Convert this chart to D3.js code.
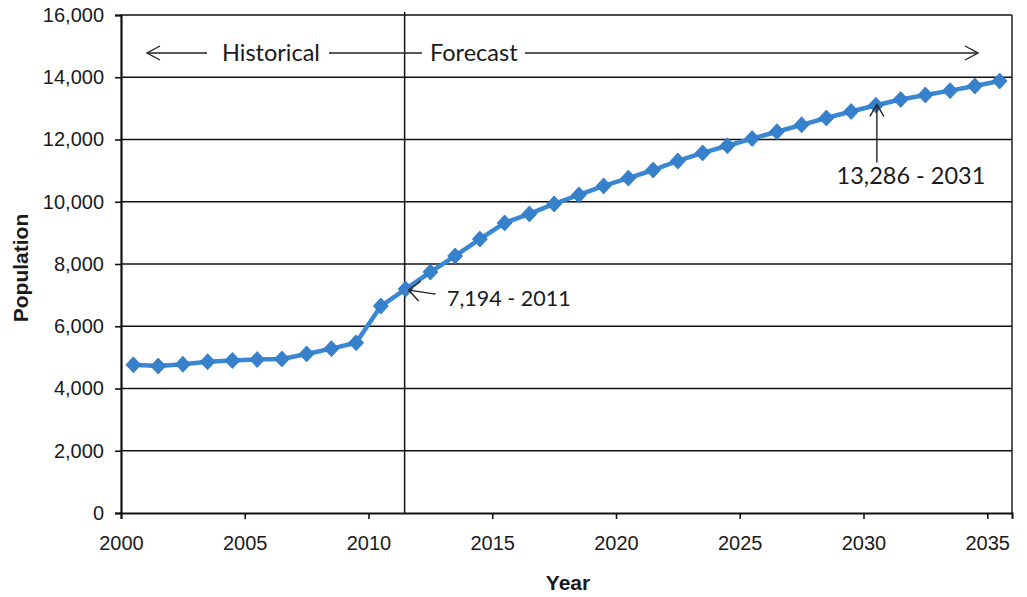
<!DOCTYPE html>
<html>
<head>
<meta charset="utf-8">
<script src="https://cdn.jsdelivr.net/npm/d3@7/dist/d3.min.js"></script>
<style>
  html, body { margin: 0; padding: 0; background: #fff; }
  svg { display: block; }
</style>
</head>
<body>
<script>
// Population, historical (2000-2011) and forecast (2012-2035)
const years = d3.range(2000, 2036);
const population = [
  4760, 4720, 4780, 4860, 4900, 4930, 4950, 5110, 5280, 5470,
  6650, 7194, 7740, 8260, 8800, 9320, 9610, 9930, 10220, 10510,
  10760, 11020, 11310, 11570, 11800, 12030, 12250, 12470, 12690, 12900,
  13100, 13286, 13430, 13570, 13720, 13880
];
const yTicks = [0, 2000, 4000, 6000, 8000, 10000, 12000, 14000, 16000];
const xTicks = [2000, 2005, 2010, 2015, 2020, 2025, 2030, 2035];
const splitYear = 2011;
const callouts = [
  { year: 2011, value: 7194, text: "7,194 - 2011" },
  { year: 2031, value: 13286, text: "13,286 - 2031" }
];

const W = 1027, H = 597;
const svg = d3.select("body").append("svg").attr("width", W).attr("height", H);

// Category axis: each year occupies one band, points sit at band centres
const x = d3.scaleLinear().domain([2000, 2036]).range([121, 1012]);
const y = d3.scaleLinear().domain([0, 16000]).range([513, 15]);
const px = yr => x(yr + 0.5);

const ink = "#111";
const axisFont = "'Liberation Sans', Arial, sans-serif";
const noteFont = "Lato, 'Open Sans', sans-serif";

// Horizontal gridlines
svg.append("g").selectAll("line").data(yTicks.filter(v => v > 0)).join("line")
  .attr("x1", x(2000)).attr("x2", x(2036))
  .attr("y1", d => y(d)).attr("y2", d => y(d))
  .attr("stroke", ink).attr("stroke-width", 1.6);

// Right border
svg.append("line")
  .attr("x1", x(2036)).attr("x2", x(2036)).attr("y1", y(16000)).attr("y2", y(0))
  .attr("stroke", ink).attr("stroke-width", 1.4);

// Y axis
const yAxis = svg.append("g").attr("transform", `translate(${x(2000)},0)`)
  .call(d3.axisLeft(y).tickValues(yTicks).tickFormat(d3.format(",")).tickSize(6).tickPadding(11));
yAxis.select(".domain").attr("stroke", ink).attr("stroke-width", 2.2);
yAxis.selectAll(".tick line").attr("stroke", ink).attr("stroke-width", 1.6);
yAxis.selectAll("text").attr("font-family", axisFont).attr("font-size", 20).attr("fill", "#1a1a1a");

// X axis
const xAxis = svg.append("g").attr("transform", `translate(0,${y(0)})`)
  .call(d3.axisBottom(x).tickValues(xTicks).tickFormat(d3.format("d")).tickSize(6).tickPadding(17));
xAxis.select(".domain").attr("stroke", ink).attr("stroke-width", 2);
xAxis.selectAll(".tick line").attr("stroke", ink).attr("stroke-width", 1.6);
xAxis.selectAll("text").attr("font-family", axisFont).attr("font-size", 20).attr("fill", "#1a1a1a");

// Axis titles
svg.append("text").attr("x", 568).attr("y", 590).attr("text-anchor", "middle")
  .attr("font-family", axisFont).attr("font-weight", "bold").attr("font-size", 21)
  .attr("fill", "#1a1a1a").text("Year");
svg.append("text").attr("transform", "translate(28,268) rotate(-90)").attr("text-anchor", "middle")
  .attr("font-family", axisFont).attr("font-weight", "bold").attr("font-size", 21)
  .attr("fill", "#1a1a1a").text("Population");

// Historical / forecast divider
const xs = px(splitYear) - 1;
svg.append("line").attr("x1", xs).attr("x2", xs).attr("y1", 12).attr("y2", y(0))
  .attr("stroke", ink).attr("stroke-width", 1.5);

// Period labels with arrows
const arrowY = 53;
function path(d) {
  svg.append("path").attr("d", d)
    .attr("stroke", "#222").attr("stroke-width", 1.4).attr("fill", "none");
}
path(`M147,${arrowY}H207`);
path(`M160,${arrowY - 7}L147,${arrowY}L160,${arrowY + 7}`);
path(`M329,${arrowY}H422`);
path(`M525,${arrowY}H978`);
path(`M965,${arrowY - 7}L978,${arrowY}L965,${arrowY + 7}`);
svg.append("text").attr("x", 222).attr("y", arrowY + 8)
  .attr("font-family", noteFont).attr("font-size", 23.5).attr("fill", "#1a1a1a").text("Historical");
svg.append("text").attr("x", 430).attr("y", arrowY + 8)
  .attr("font-family", noteFont).attr("font-size", 23.5).attr("fill", "#1a1a1a").text("Forecast");

// Population line and diamond markers
const line = d3.line().x((d, i) => px(years[i])).y(d => y(d));
svg.append("path").datum(population).attr("d", line)
  .attr("fill", "none").attr("stroke", "#3a87d3").attr("stroke-width", 4.5)
  .attr("stroke-linejoin", "round");
svg.append("g").selectAll("path").data(population).join("path")
  .attr("d", "M0,-8L7.5,0L0,8L-7.5,0Z")
  .attr("transform", (d, i) => `translate(${px(years[i])},${y(d)})`)
  .attr("fill", "#3680cc").attr("stroke", "#2f76c0").attr("stroke-width", 0.8);

// Value callouts
const c1 = callouts[0];
const t1x = px(c1.year) + 3, t1y = y(c1.value) + 1;
path(`M${t1x},${t1y}L${t1x + 27},${t1y + 4}`);
path(`M${t1x + 12},${t1y - 9}L${t1x},${t1y}L${t1x + 10},${t1y + 11}`);
svg.append("text").attr("x", 447).attr("y", 306)
  .attr("font-family", noteFont).attr("font-size", 21.5).attr("fill", "#1a1a1a").text(c1.text);

const c2 = callouts[1];
const t2x = px(c2.year - 1) + 1, t2y = y(c2.value) + 5;
path(`M${t2x},${t2y}V${t2y + 58}`);
path(`M${t2x - 7},${t2y + 12}L${t2x},${t2y}L${t2x + 7},${t2y + 12}`);
svg.append("text").attr("x", 911).attr("y", 184).attr("text-anchor", "middle")
  .attr("font-family", noteFont).attr("font-size", 23.5).attr("fill", "#1a1a1a").text(c2.text);
</script>
</body>
</html>
